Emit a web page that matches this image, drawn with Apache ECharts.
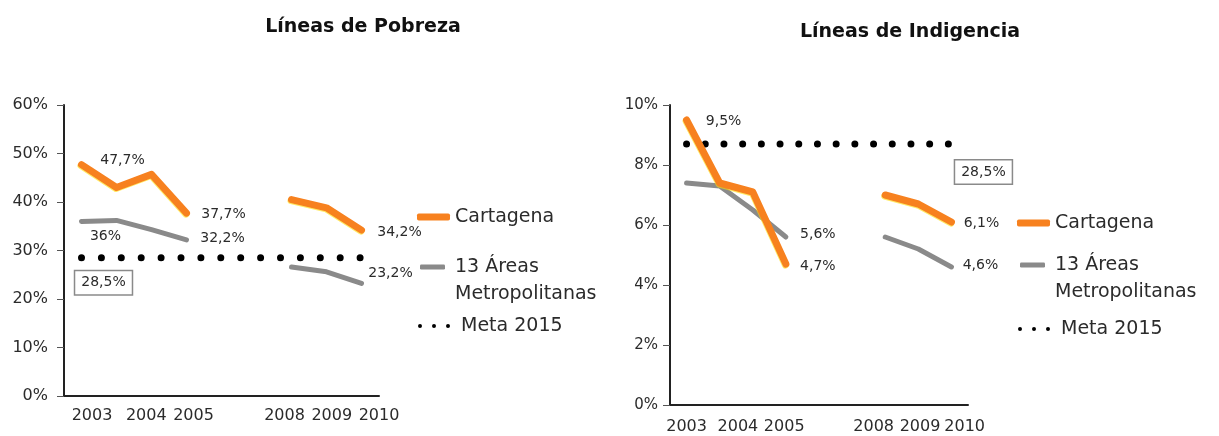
<!DOCTYPE html>
<html>
<head>
<meta charset="utf-8">
<script src="https://cdn.jsdelivr.net/npm/echarts@6/dist/echarts.min.js"></script>
<style>
  html, body { margin: 0; padding: 0; background: #fff; }
  #chart { width: 1219px; height: 436px; }
</style>
</head>
<body>
<div id="chart"></div>
<script>
// slots on the category axis (two periods per group, 2006-2007 empty)
const slots = ['2003', '2003b', '2004', '2005', '2006', '2007', '2008', '2009', '2010']
const years = ['2003', '2004', '2005', '2008', '2009', '2010']
// where the year labels sit, in slot units (they are offset in the original)
const pobYearPos = [0.8, 2.35, 3.7, 6.3, 7.65, 9]
const indYearPos = [0.5, 2.05, 3.45, 6.15, 7.55, 8.9]

// Líneas de Pobreza (%)
const pobCartagena = [47.7, 43.0, 45.7, 37.7, null, null, 40.5, 38.8, 34.2]
const pobAreas = [36, 36.2, 34.3, 32.2, null, null, 26.6, 25.6, 23.2]
const pobMeta = [28.5, 28.5, 28.5, 28.5, 28.5, 28.5, 28.5, 28.5, 28.5]

// Líneas de Indigencia (%)
const indCartagena = [9.5, 7.4, 7.1, 4.7, null, null, 7.0, 6.7, 6.1]
const indAreas = [7.4, 7.3, 6.5, 5.6, null, null, 5.6, 5.2, 4.6]
const indMeta = [8.7, 8.7, 8.7, 8.7, 8.7, 8.7, 8.7, 8.7, 8.7]
const metaText = '28,5%'

const FONT = 'DejaVu Sans'
const ORANGE = '#F7811F'
const GRAY = '#8A8A8A'
const TXT = '#2b2b2b'

const pct = v => String(v).replace('.', ',') + '%'

// turn a value array into data items, labelling only the listed indexes
function withLabels (values, marks) {
  return values.map((v, i) => {
    const m = marks[i]
    if (!m || v == null) return v
    const label = {
      show: true,
      position: 'inside',
      offset: m.offset,
      fontFamily: FONT,
      fontSize: 14,
      color: TXT,
      formatter: m.text ? m.text : p => pct(p.value)
    }
    if (m.boxed) {
      Object.assign(label, {
        borderColor: '#8a8a8a',
        borderWidth: 1.5,
        padding: [5, 6, 4, 6],
        backgroundColor: '#fff'
      })
    }
    return { value: v, label }
  })
}

function yearAxis (gridIndex, pos) {
  return {
    type: 'value',
    gridIndex,
    position: 'bottom',
    min: 0,
    max: 9,
    interval: 0.05,
    axisLine: { show: false },
    axisTick: { show: false },
    splitLine: { show: false },
    axisLabel: {
      margin: gridIndex === 0 ? 12 : 14,
      fontFamily: FONT,
      fontSize: 16,
      color: TXT,
      formatter: v => {
        const i = pos.findIndex(p => Math.abs(p - v) < 0.01)
        return i >= 0 ? years[i] : ''
      }
    }
  }
}

function slotAxis (gridIndex) {
  return {
    type: 'category',
    gridIndex,
    data: slots,
    boundaryGap: true,
    axisLine: { lineStyle: { color: '#222', width: 2 } },
    axisTick: { length: 5, lineStyle: { color: '#555' } },
    axisLabel: { show: false },
    splitLine: { show: false }
  }
}

function pctAxis (gridIndex, max, interval, margin, size) {
  return {
    type: 'value',
    gridIndex,
    min: 0,
    max,
    interval,
    axisLine: { show: true, lineStyle: { color: '#222', width: 2 } },
    axisTick: { show: true, length: 7, lineStyle: { color: '#555' } },
    splitLine: { show: false },
    axisLabel: {
      margin,
      fontFamily: FONT,
      fontSize: size,
      color: TXT,
      formatter: '{value}%'
    }
  }
}

function lines (idx, cartagena, areas, meta, dotGap) {
  return [
    {
      name: 'Meta 2015',
      type: 'line',
      xAxisIndex: idx * 2,
      yAxisIndex: idx,
      data: meta,
      symbol: 'circle',
      symbolSize: 0,
      itemStyle: { color: '#000' },
      lineStyle: { color: '#000', width: 7, type: [0, dotGap], cap: 'round' },
      z: 2
    },
    {
      name: '13 Áreas Metropolitanas',
      type: 'line',
      xAxisIndex: idx * 2,
      yAxisIndex: idx,
      data: areas,
      symbol: 'circle',
      symbolSize: 0,
      itemStyle: { color: GRAY },
      lineStyle: { color: GRAY, width: 5, cap: 'round', join: 'round' },
      z: 3
    },
    {
      name: 'Cartagena',
      type: 'line',
      xAxisIndex: idx * 2,
      yAxisIndex: idx,
      data: cartagena,
      symbol: 'circle',
      symbolSize: 0,
      itemStyle: { color: ORANGE },
      lineStyle: {
        color: ORANGE,
        width: 7,
        cap: 'round',
        join: 'round',
        shadowColor: 'rgba(255, 220, 0, 0.6)',
        shadowOffsetX: -0.5,
        shadowOffsetY: 1
      },
      z: 4
    }
  ]
}

function legendItem (name, icon, color, left, top, w, h, extra = {}) {
  return Object.assign({
    orient: 'vertical',
    left,
    top,
    padding: 0,
    itemWidth: w,
    itemHeight: h,
    selectedMode: false,
    data: [{ name, icon }],
    itemStyle: { color, borderWidth: 0 },
    textStyle: { fontFamily: FONT, fontSize: 19, color: TXT, lineHeight: 24 }
  }, extra)
}

const DOTS = 'path://M0,2a2,2 0 1,0 4,0a2,2 0 1,0 -4,0M14,2a2,2 0 1,0 4,0a2,2 0 1,0 -4,0M28,2a2,2 0 1,0 4,0a2,2 0 1,0 -4,0'
// blank first line so the swatch lines up with "13 Áreas"
const twoLines = {
  formatter: name => '\u00a0\n' + name.replace('Áreas ', 'Áreas\n'),
  textStyle: { fontFamily: FONT, fontSize: 19, color: TXT, lineHeight: 27, padding: [0, 0, 0, 5] }
}

function legendsAt (x, yC, yA, yM) {
  return [
    legendItem('Cartagena', 'roundRect', ORANGE, x, yC - 12, 33, 7),
    legendItem('13 Áreas Metropolitanas', 'roundRect', GRAY, x + 3, yA - 40.5, 25, 5, twoLines),
    legendItem('Meta 2015', DOTS, '#000', x + 1, yM - 12, 32, 4, {
      textStyle: { fontFamily: FONT, fontSize: 19, color: TXT, lineHeight: 24, padding: [0, 0, 0, 6] }
    })
  ]
}

const option = {
  animation: false,
  backgroundColor: '#fff',
  title: [
    {
      text: 'Líneas de Pobreza',
      left: 358,
      top: 13,
      textAlign: 'center',
      textStyle: { fontFamily: FONT, fontWeight: 'bold', fontSize: 19, color: '#111' }
    },
    {
      text: 'Líneas de Indigencia',
      left: 905,
      top: 18,
      textAlign: 'center',
      textStyle: { fontFamily: FONT, fontWeight: 'bold', fontSize: 19, color: '#111' }
    }
  ],
  legend: [
    ...legendsAt(417, 217, 267, 326),
    ...legendsAt(1017, 223, 265, 329)
  ],
  grid: [
    { left: 64, top: 105, width: 315, height: 291 },
    { left: 670, top: 105, width: 298, height: 300 }
  ],
  xAxis: [
    slotAxis(0), yearAxis(0, pobYearPos),
    slotAxis(1), yearAxis(1, indYearPos)
  ],
  yAxis: [
    pctAxis(0, 60, 10, 16, 16),
    pctAxis(1, 10, 2, 12, 15)
  ],
  series: [
    ...lines(0,
      withLabels(pobCartagena, { 0: { offset: [41, -4] }, 3: { offset: [37, 1] }, 8: { offset: [38, 2] } }),
      withLabels(pobAreas, { 0: { offset: [24, 15] }, 3: { offset: [36, -1] }, 8: { offset: [29, -10] } }),
      withLabels(pobMeta, { 0: { offset: [22, 25], boxed: true } }),
      19.9),
    ...lines(1,
      withLabels(indCartagena, { 0: { offset: [37, 1] }, 3: { offset: [32, 2] }, 8: { offset: [30, 1] } }),
      withLabels(indAreas, { 3: { offset: [32, -3] }, 8: { offset: [29, -2] } }),
      withLabels(indMeta, { 8: { offset: [32, 28], boxed: true, text: metaText } }),
      18.7)
  ]
}

const chart = echarts.init(document.getElementById('chart'))
chart.setOption(option)
</script>
</body>
</html>
